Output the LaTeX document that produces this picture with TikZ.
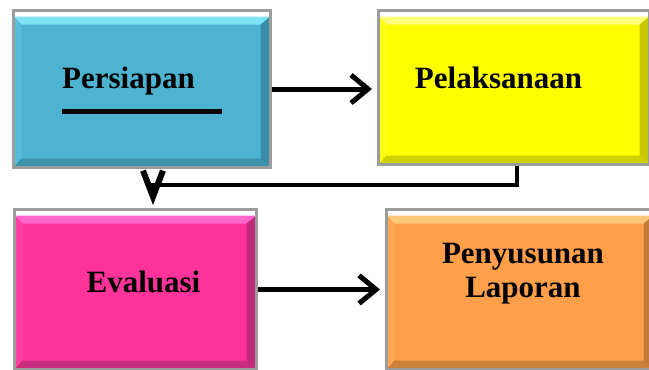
\documentclass[tikz,border=0pt]{standalone}
\usepackage{fontspec}
\setmainfont{Liberation Serif}
\usetikzlibrary{arrows.meta,calc}
\definecolor{bgray}{HTML}{9C9C9C}
\definecolor{cyanA}{HTML}{4DB3D1}
\definecolor{cyanL}{HTML}{80E2F5}
\definecolor{cyanD}{HTML}{3A8DA6}
\definecolor{yelA}{HTML}{FFFF00}
\definecolor{yelL}{HTML}{FFFF78}
\definecolor{yelD}{HTML}{C8C800}
\definecolor{pinkA}{HTML}{FF3399}
\definecolor{pinkL}{HTML}{FF66CC}
\definecolor{pinkD}{HTML}{C02A78}
\definecolor{oraA}{HTML}{FF9F4A}
\definecolor{oraL}{HTML}{FFC878}
\definecolor{oraD}{HTML}{C27A3A}
\begin{document}
\begin{tikzpicture}[x=1pt,y=-1pt,
  bevel/.style n args={3}{draw=bgray, line width=3pt, fill=#1, inner sep=0pt,
    path picture={
      \fill[white] let \p1=(path picture bounding box.north west),\p2=(path picture bounding box.south east) in
        (\x1,\y1) rectangle (\x2,\y1-6pt);
      \fill[#2] let \p1=(path picture bounding box.north west),\p2=(path picture bounding box.south east) in
        (\x1,\y1-6pt) -- (\x2,\y1-6pt) -- (\x2-10pt,\y1-14pt) -- (\x1+8pt,\y1-14pt) -- cycle;
      \fill[#1!80!#2] let \p1=(path picture bounding box.north west),\p2=(path picture bounding box.south east) in
        (\x1,\y1-6pt) -- (\x1+8pt,\y1-14pt) -- (\x1+8pt,\y2+9pt) -- (\x1,\y2) -- cycle;
      \fill[#3] let \p1=(path picture bounding box.north west),\p2=(path picture bounding box.south east) in
        (\x2,\y1-6pt) -- (\x2,\y2) -- (\x2-10pt,\y2+9pt) -- (\x2-10pt,\y1-14pt) -- cycle;
      \fill[#3!85!#1] let \p1=(path picture bounding box.north west),\p2=(path picture bounding box.south east) in
        (\x1,\y2) -- (\x2,\y2) -- (\x2-10pt,\y2+9pt) -- (\x1+8pt,\y2+9pt) -- cycle;
    }},
  lbl/.style={font=\rmfamily\bfseries\fontsize{31}{34}\selectfont, inner sep=0pt, anchor=base},
  harr/.style={draw=black, line width=5pt, -{Straight Barb[length=17pt,width=28pt]}, shorten >=5pt},
  varr/.style={draw=black, line width=4pt, -{Straight Barb[length=26pt,width=20pt,line width=6pt]}, shorten >=3pt}
]
\useasboundingbox (0,0) rectangle (649,370);
\clip (0,0) rectangle (649,370);

\node[bevel={cyanA}{cyanL}{cyanD}, minimum width=257pt, minimum height=157pt] (box1) at (142,89) {};
\node[bevel={yelA}{yelL}{yelD}, minimum width=271pt, minimum height=154pt] (box2) at (514,87.5) {};
\node[bevel={pinkA}{pinkL}{pinkD}, minimum width=242pt, minimum height=160pt] (box3) at (135.5,289.5) {};
\node[bevel={oraA}{oraL}{oraD}, minimum width=267pt, minimum height=160pt] (box4) at (520,289.5) {};

\node[lbl] (t1) at (128.5,88) {Persiapan};
\draw[line width=5pt] (62,111) -- (222,111);
\node[lbl] (t2) at (498.5,88) {Pelaksanaan};
\node[lbl] (t3) at (143.5,292) {Evaluasi};
\node[lbl] (t4a) at (523,263) {Penyusunan};
\node[lbl] (t4b) at (523,297) {Laporan};

\coordinate (c1) at (517,185);
\coordinate (c2) at (153,185);

\draw[harr] (box1.east) -- (box1.east -| box2.west);
\draw[harr] (box3.east) -- (box3.east -| box4.west);
\draw[varr] (box2.south -| c1) -- (c1) -- (c2) -- (c2 |- box3.north);
\end{tikzpicture}
\end{document}
